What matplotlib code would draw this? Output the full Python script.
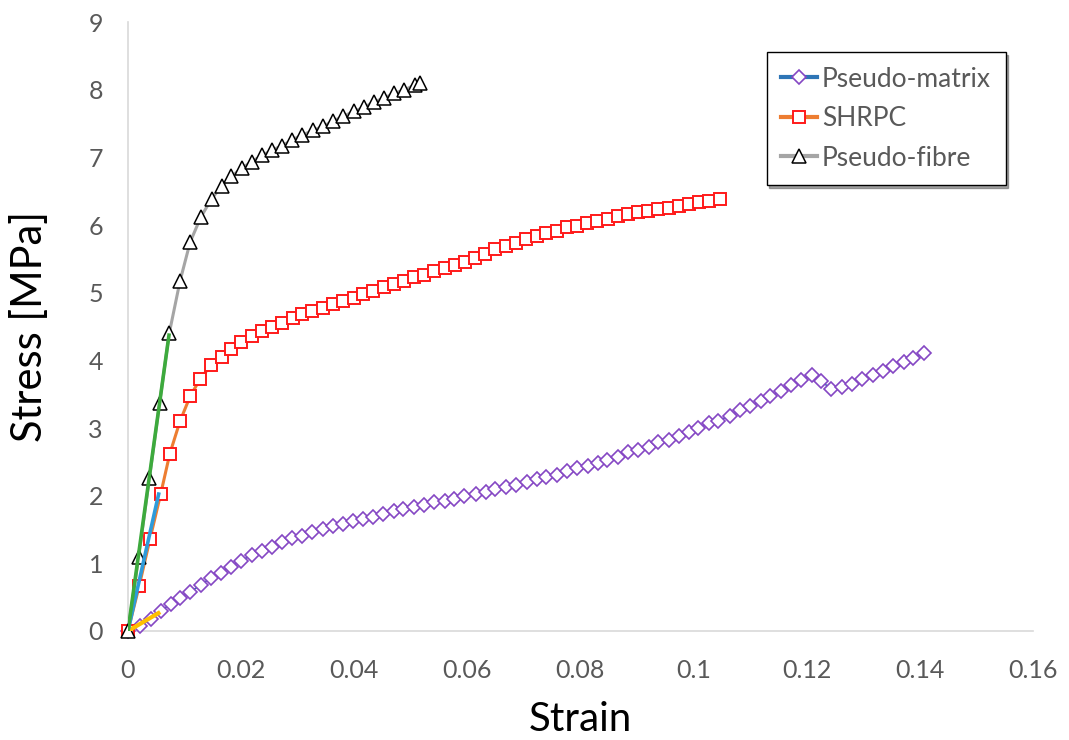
import numpy as np
import matplotlib
matplotlib.use('Agg')
import matplotlib.pyplot as plt

# values
matrix_strain = [0, 0.0022, 0.0040, 0.0058, 0.0076, 0.0092, 0.0110, 0.0129, 0.0147, 0.0164,
                 0.0182, 0.0200, 0.0219, 0.0237, 0.0255, 0.0272, 0.0290, 0.0308, 0.0326, 0.0345,
                 0.0362, 0.0380, 0.0398, 0.0416, 0.0433, 0.0451, 0.0470, 0.0487, 0.0505, 0.0523,
                 0.0542, 0.0560, 0.0577, 0.0595, 0.0615, 0.0633, 0.0650, 0.0668, 0.0686, 0.0705,
                 0.0723, 0.0740, 0.0758, 0.0776, 0.0794, 0.0813, 0.0831, 0.0848, 0.0866, 0.0884,
                 0.0902, 0.0921, 0.0938, 0.0956, 0.0974, 0.0992, 0.1009, 0.1027, 0.1044, 0.1064,
                 0.1082, 0.1100, 0.1119, 0.1136, 0.1155, 0.1173, 0.1191, 0.1209, 0.1226, 0.1244,
                 0.1262, 0.1281, 0.1299, 0.1317, 0.1335, 0.1353, 0.1372, 0.1389, 0.1407]
matrix_stress = [0, 0.07, 0.18, 0.30, 0.40, 0.49, 0.58, 0.68, 0.79, 0.86,
                 0.95, 1.04, 1.12, 1.19, 1.24, 1.31, 1.37, 1.41, 1.46, 1.51,
                 1.55, 1.58, 1.62, 1.65, 1.69, 1.73, 1.78, 1.81, 1.84, 1.87,
                 1.90, 1.92, 1.95, 2.00, 2.03, 2.06, 2.10, 2.13, 2.16, 2.20,
                 2.25, 2.27, 2.31, 2.37, 2.41, 2.44, 2.49, 2.53, 2.57, 2.64,
                 2.68, 2.72, 2.79, 2.83, 2.89, 2.94, 3.00, 3.07, 3.11, 3.18,
                 3.26, 3.32, 3.40, 3.47, 3.55, 3.64, 3.71, 3.78, 3.69, 3.58,
                 3.60, 3.65, 3.73, 3.78, 3.85, 3.92, 3.98, 4.04, 4.11]

shrpc_strain = [0, 0.0020, 0.0039, 0.0058, 0.0074, 0.0092, 0.0110, 0.0128, 0.0147, 0.0166,
                0.0183, 0.0200, 0.0220, 0.0237, 0.0255, 0.0273, 0.0291, 0.0308, 0.0326, 0.0345,
                0.0363, 0.0381, 0.0399, 0.0416, 0.0434, 0.0453, 0.0471, 0.0489, 0.0506, 0.0524,
                0.0542, 0.0560, 0.0578, 0.0596, 0.0614, 0.0632, 0.0650, 0.0668, 0.0686, 0.0704,
                0.0723, 0.0740, 0.0758, 0.0776, 0.0794, 0.0812, 0.0829, 0.0849, 0.0867, 0.0884,
                0.0902, 0.0920, 0.0938, 0.0957, 0.0975, 0.0992, 0.1010, 0.1028, 0.1047]
shrpc_stress = [0, 0.67, 1.36, 2.03, 2.62, 3.10, 3.47, 3.73, 3.93, 4.05,
                4.17, 4.27, 4.36, 4.43, 4.50, 4.56, 4.62, 4.68, 4.73, 4.78,
                4.83, 4.88, 4.93, 4.98, 5.03, 5.08, 5.13, 5.17, 5.23, 5.27,
                5.32, 5.36, 5.41, 5.45, 5.51, 5.57, 5.64, 5.69, 5.74, 5.79,
                5.84, 5.88, 5.92, 5.97, 5.99, 6.03, 6.06, 6.09, 6.13, 6.16,
                6.19, 6.21, 6.24, 6.26, 6.29, 6.31, 6.34, 6.36, 6.38]

fibre_strain = [0, 0.0019, 0.0038, 0.0056, 0.0073, 0.0092, 0.0110, 0.0129, 0.0148, 0.0166,
                0.0183, 0.0201, 0.0219, 0.0237, 0.0255, 0.0272, 0.0290, 0.0308, 0.0327, 0.0345,
                0.0363, 0.0381, 0.0399, 0.0417, 0.0435, 0.0453, 0.0471, 0.0489, 0.0507, 0.0517]
fibre_stress = [0, 1.10, 2.26, 3.37, 4.40, 5.17, 5.75, 6.12, 6.39, 6.58,
                6.72, 6.84, 6.94, 7.03, 7.11, 7.17, 7.26, 7.33, 7.40, 7.46,
                7.54, 7.61, 7.68, 7.74, 7.82, 7.88, 7.95, 8.00, 8.07, 8.10]

# initial linear segments
fit_matrix_strain = [0, 0.0057]
fit_matrix_stress = [0, 0.28]
fit_shrpc_strain = [0, 0.0055]
fit_shrpc_stress = [0, 2.05]
fit_fibre_strain = [0, 0.0073]
fit_fibre_stress = [0, 4.40]

xticks = [0, 0.02, 0.04, 0.06, 0.08, 0.1, 0.12, 0.14, 0.16]
xticklabels = ['0', '0.02', '0.04', '0.06', '0.08', '0.1', '0.12', '0.14', '0.16']
yticks = list(range(10))

plt.rcParams['font.family'] = ['Lato', 'DejaVu Sans']

fig = plt.figure(figsize=(10.69, 7.40), dpi=100)
ax = fig.add_axes([0.1197, 0.1473, 0.8463, 0.8227])

ax.plot(matrix_strain, matrix_stress, color='#2E75B6', lw=1.2, marker='D', ms=7.5,
        mfc='white', mec='#8547C4', mew=1.2, label='Pseudo-matrix', zorder=3, clip_on=False)
ax.plot(shrpc_strain, shrpc_stress, color='#ED7D31', lw=2.2, marker='s', ms=9,
        mfc='white', mec='#FF1A1A', mew=1.4, label='SHRPC', zorder=3, clip_on=False)
ax.plot(fibre_strain, fibre_stress, color='#A5A5A5', lw=2.2, marker='^', ms=10,
        mfc='white', mec='black', mew=1.1, label='Pseudo-fibre', zorder=3, clip_on=False)

ax.plot(fit_matrix_strain, fit_matrix_stress, color='#FFC000', lw=3, solid_capstyle='butt', zorder=4)
ax.plot(fit_shrpc_strain, fit_shrpc_stress, color='#2E9BDA', lw=2.6, solid_capstyle='butt', zorder=4)
ax.plot(fit_fibre_strain, fit_fibre_stress, color='#3DAA3D', lw=2.6, solid_capstyle='butt', zorder=5)

ax.set_xlim(0, 0.16)
ax.set_ylim(0, 9)
ax.set_xticks(xticks)
ax.set_xticklabels(xticklabels)
ax.set_yticks(yticks)
ax.tick_params(length=0, labelsize=18, labelcolor='#595959')
ax.tick_params(axis='y', pad=18)
ax.tick_params(axis='x', pad=20)
for s in ['top', 'right']:
    ax.spines[s].set_visible(False)
for s in ['left', 'bottom']:
    ax.spines[s].set_color('#D9D9D9')
    ax.spines[s].set_linewidth(1.2)

ax.set_xlabel('Strain', fontsize=29, labelpad=14)
ax.set_ylabel('Stress [MPa]', fontsize=30, labelpad=28)

leg = ax.legend(loc='upper right', bbox_to_anchor=(0.970, 0.951), borderaxespad=0,
                fontsize=19, frameon=True, fancybox=False, shadow=True, edgecolor='black',
                framealpha=1, handlelength=1.35, handletextpad=0.2, borderpad=0.55,
                labelspacing=0.55, labelcolor='#595959')
leg.get_frame().set_linewidth(1.0)
for h in leg.get_lines():
    h.set_linewidth(3)

fig.savefig('out.png', dpi=100)
